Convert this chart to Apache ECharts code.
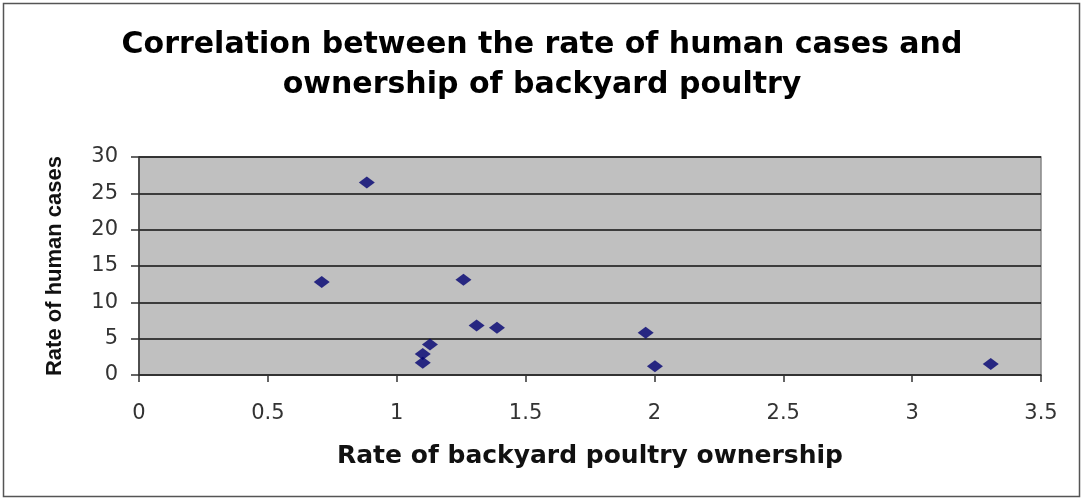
<!DOCTYPE html>
<html>
<head>
<meta charset="utf-8">
<script src="https://cdn.jsdelivr.net/npm/echarts@6/dist/echarts.min.js"></script>
<style>
html,body{margin:0;padding:0;background:#fff;}
#chart{width:1084px;height:499px;}
</style>
</head>
<body>
<div id="chart"></div>
<script>
const titleLines = ["Correlation between the rate of human cases and", "ownership of backyard poultry"];
const xAxisName = "Rate of backyard poultry ownership";
const yAxisName = "Rate of human cases";
const poultryRate = [0.884, 0.709, 1.129, 1.101, 1.101, 1.259, 1.310, 1.389, 1.966, 2.002, 3.305];
const humanRate   = [26.5, 12.8, 4.2, 2.9, 1.7, 13.1, 6.8, 6.5, 5.8, 1.2, 1.5];
const xTicks = [0, 0.5, 1, 1.5, 2, 2.5, 3, 3.5];
const yTicks = [0, 5, 10, 15, 20, 25, 30];

const points = poultryRate.map((x, i) => [x, humanRate[i]]);
const chart = echarts.init(document.getElementById('chart'));
chart.setOption({
  backgroundColor: '#ffffff',
  animation: false,
  title: {
    text: titleLines.join('\n'),
    left: 'center',
    top: 20,
    textStyle: {
      fontFamily: 'DejaVu Sans, sans-serif',
      fontWeight: 'bold',
      fontSize: 30,
      lineHeight: 40,
      color: '#000'
    }
  },
  graphic: [{
    type: 'rect',
    shape: {x: 3.5, y: 3.5, width: 1076, height: 493},
    style: {fill: 'none', stroke: '#555', lineWidth: 1.5},
    silent: true,
    z: -1
  }],
  grid: {
    left: 139, right: 43, top: 157, bottom: 124,
    show: true,
    backgroundColor: '#c0c0c0',
    borderColor: '#888',
    borderWidth: 1.5
  },
  xAxis: {
    type: 'value',
    min: 0, max: 3.5, interval: 0.5,
    name: xAxisName,
    nameLocation: 'middle',
    nameGap: 69,
    nameTextStyle: {fontFamily: 'DejaVu Sans, sans-serif', fontWeight: 'bold', fontSize: 25, color: '#111'},
    axisLine: {show: true, onZero: false, lineStyle: {color: '#333', width: 1.5}},
    axisTick: {show: true, length: 7, lineStyle: {color: '#333', width: 1.5}},
    axisLabel: {
      margin: 28,
      fontFamily: 'DejaVu Sans, sans-serif', fontSize: 21, color: '#333',
      formatter: v => String(v)
    },
    splitLine: {show: false}
  },
  yAxis: {
    type: 'value',
    min: 0, max: 30, interval: 5,
    name: yAxisName,
    nameLocation: 'middle',
    nameGap: 73,
    nameRotate: 90,
    nameTextStyle: {fontFamily: 'Liberation Sans, Arial, sans-serif', fontWeight: 'bold', fontSize: 22, color: '#111'},
    axisLine: {show: true, lineStyle: {color: '#333', width: 1.5}},
    axisTick: {show: true, length: 8, lineStyle: {color: '#333', width: 1.5}},
    axisLabel: {
      margin: 21,
      fontFamily: 'DejaVu Sans, sans-serif', fontSize: 21, color: '#333'
    },
    splitLine: {show: true, lineStyle: {color: '#111', width: 1.5}}
  },
  series: [{
    type: 'scatter',
    data: points,
    symbol: 'diamond',
    symbolSize: [16, 12],
    itemStyle: {color: '#000070'}
  }]
});
</script>
</body>
</html>
